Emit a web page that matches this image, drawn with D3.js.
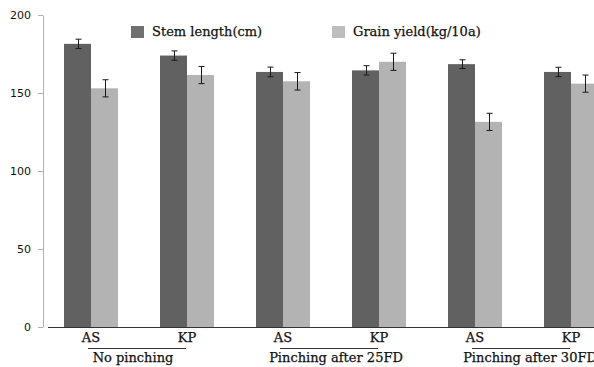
<!DOCTYPE html>
<html>
<head>
<meta charset="utf-8">
<script src="https://cdn.jsdelivr.net/npm/d3@7"></script>
<style>
  html, body { margin: 0; padding: 0; background: #fff; }
  svg { display: block; overflow: hidden; }
  .serif { font-family: "DejaVu Serif", serif; fill: #111; stroke: #111; stroke-width: 0.25px; }
  .sans { font-family: "DejaVu Sans", sans-serif; fill: #111; }
</style>
</head>
<body>
<svg id="chart" width="594" height="367"></svg>
<script>
// Treatments (x categories) and their parent groups
const categories = ["AS-1", "KP-1", "AS-2", "KP-2", "AS-3", "KP-3"];
const categoryLabels = ["AS", "KP", "AS", "KP", "AS", "KP"];
const groups = ["No pinching", "Pinching after 25FD", "Pinching after 30FD"];

// Series values and error margins
const seriesNames = ["Stem length(cm)", "Grain yield(kg/10a)"];
const stemLength = [181.5, 174, 163.5, 164.5, 168.5, 163.5];
const stemLengthErr = [3, 3, 3.1, 3, 2.8, 3];
const grainYield = [153, 161.5, 157.5, 170, 131.5, 156];
const grainYieldErr = [5.5, 5.5, 5.6, 5.5, 5.5, 5.5];

const yTicks = [0, 50, 100, 150, 200];

const seriesValues = [stemLength, grainYield];
const seriesErrors = [stemLengthErr, grainYieldErr];
const barColors = ["#616161", "#b3b3b3"];
const legendColors = ["#707070", "#bdbdbd"];
// horizontal nudge of each group caption from the group centre
const groupLabelShift = [-6, 5, 7];

const svg = d3.select("#chart");

const y = d3.scaleLinear().domain([0, 200]).range([327, 15]);
const x = d3.scaleBand().domain(categories).range([43, 619])
  .paddingInner(0.4375).paddingOuter(0.21875);
const xSeries = d3.scaleBand().domain(d3.range(seriesNames.length)).range([0, x.bandwidth()]);

// y axis
const yAxis = d3.axisLeft(y).tickValues(yTicks).tickSize(5).tickPadding(7).tickSizeOuter(0);
const yg = svg.append("g").attr("transform", "translate(43,0)").call(yAxis);
yg.select(".domain").attr("stroke", "#b0b0b0");
yg.selectAll(".tick line").attr("stroke", "#b0b0b0");
yg.selectAll(".tick text").attr("class", "sans").attr("font-size", 11)
  .attr("font-family", "DejaVu Sans, sans-serif").attr("fill", "#111");

// bars
const rows = categories.map((c, i) => ({ c, i }));
seriesNames.forEach((name, s) => {
  svg.append("g").selectAll("rect").data(rows).join("rect")
    .attr("x", d => x(d.c) + xSeries(s))
    .attr("y", d => y(seriesValues[s][d.i]))
    .attr("width", xSeries.bandwidth())
    .attr("height", d => y(0) - y(seriesValues[s][d.i]))
    .attr("fill", barColors[s]);
});

// error bars
seriesNames.forEach((name, s) => {
  const g = svg.append("g").attr("stroke", "#1a1a1a").attr("stroke-width", 1);
  rows.forEach(d => {
    const cx = Math.round(x(d.c) + xSeries(s) + xSeries.bandwidth() / 2) + 0.5;
    const v = seriesValues[s][d.i], e = seriesErrors[s][d.i];
    const top = y(v + e), bot = y(v - e);
    g.append("line").attr("x1", cx).attr("x2", cx).attr("y1", top).attr("y2", bot);
    g.append("line").attr("x1", cx - 3).attr("x2", cx + 3).attr("y1", top).attr("y2", top);
    g.append("line").attr("x1", cx - 3).attr("x2", cx + 3).attr("y1", bot).attr("y2", bot);
  });
});

// x baseline
svg.append("line").attr("x1", 48).attr("x2", 620)
  .attr("y1", y(0) + 0.5).attr("y2", y(0) + 0.5)
  .attr("stroke", "#333").attr("stroke-width", 1);

// category labels
svg.append("g").selectAll("text").data(rows).join("text")
  .attr("class", "serif").attr("font-size", 13)
  .attr("x", d => x(d.c) + x.bandwidth() / 2)
  .attr("y", 342).attr("text-anchor", "middle")
  .text(d => categoryLabels[d.i]);

// group brackets and labels
groups.forEach((gname, k) => {
  const c1 = x(categories[2 * k]) + x.bandwidth() / 2;
  const c2 = x(categories[2 * k + 1]) + x.bandwidth() / 2;
  svg.append("line").attr("x1", c1 - 3).attr("x2", c2 - 1)
    .attr("y1", 348.5).attr("y2", 348.5).attr("stroke", "#333");
  svg.append("text").attr("class", "serif").attr("font-size", 13)
    .attr("x", (c1 + c2) / 2 + groupLabelShift[k]).attr("y", 362).attr("text-anchor", "middle")
    .text(gname);
});

// legend
const legendX = [131, 332];
seriesNames.forEach((name, s) => {
  svg.append("rect").attr("x", legendX[s]).attr("y", 26).attr("width", 13).attr("height", 12)
    .attr("fill", legendColors[s]);
  svg.append("text").attr("class", "serif").attr("font-size", 13)
    .attr("x", legendX[s] + 21).attr("y", 36).text(name);
});
</script>
</body>
</html>
